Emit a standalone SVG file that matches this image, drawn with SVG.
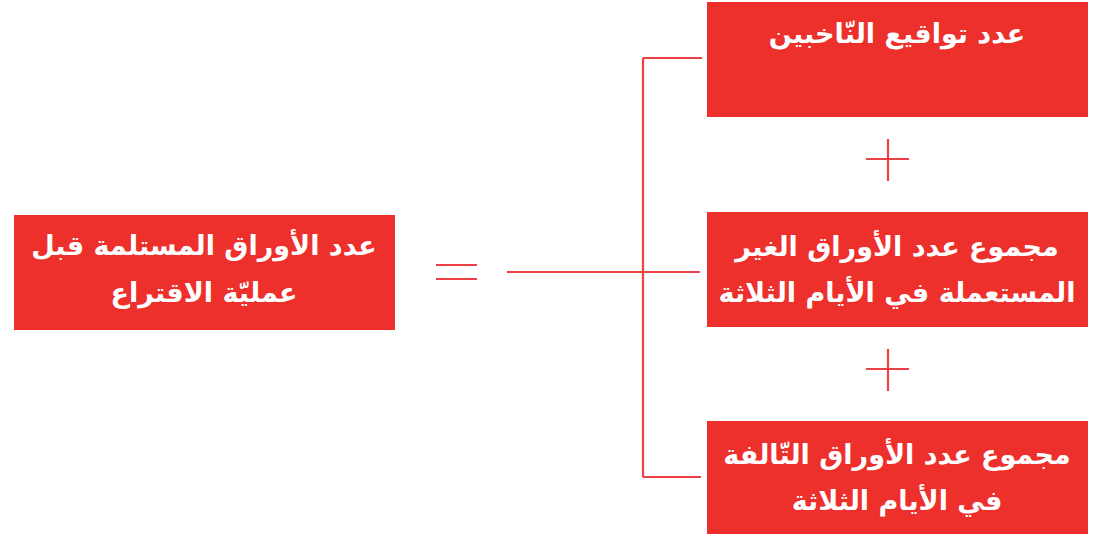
<svg xmlns="http://www.w3.org/2000/svg" width="1093" height="534" viewBox="0 0 1093 534">
<style>
.box{fill:#EE302D}
.t{fill:#fff;font-family:"DejaVu Sans",sans-serif;font-size:27px;font-weight:bold;text-anchor:middle;direction:rtl}
.ln{stroke:#EE4044;stroke-width:2.2;fill:none}
</style>
<rect width="1093" height="534" fill="#fff"/>
<g id="connectors">
<path class="ln" d="M507 272H700M643 58V477M643 58H702M643 477H701"/>
<path class="ln" d="M436 265H477M436 279H477"/>
<path class="ln" d="M866 159H909M888 139V181"/>
<path class="ln" d="M866 369H909M888 349V391"/>
</g>
<g id="node-left">
<rect class="box" x="14" y="215" width="381" height="115"/>
<text class="t" x="204" y="255">عدد الأوراق المستلمة قبل</text>
<text class="t" x="204" y="302">عمليّة الاقتراع</text>
</g>
<g id="node-1">
<rect class="box" x="707" y="2" width="381" height="115"/>
<text class="t" x="897" y="43">عدد تواقيع النّاخبين</text>
</g>
<g id="node-2">
<rect class="box" x="707" y="212" width="381" height="115"/>
<text class="t" x="897" y="256">مجموع عدد الأوراق الغير</text>
<text class="t" x="897" y="302">المستعملة في الأيام الثلاثة</text>
</g>
<g id="node-3">
<rect class="box" x="707" y="421" width="381" height="113"/>
<text class="t" x="897" y="464">مجموع عدد الأوراق التّالفة</text>
<text class="t" x="897" y="510">في الأيام الثلاثة</text>
</g>
</svg>
